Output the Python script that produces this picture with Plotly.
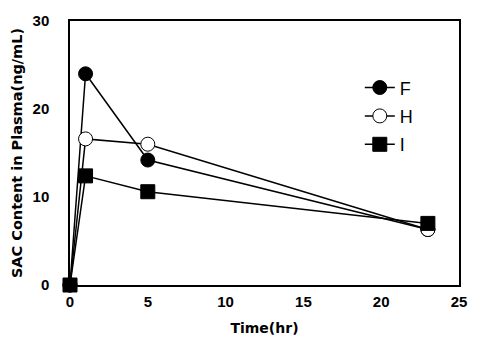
import plotly.graph_objects as go

time_hr = [0, 1, 5, 23]
series_names = ["F", "H", "I"]
f_values = [0, 24.0, 14.2, 6.3]
h_values = [0, 16.6, 16.0, 6.3]
i_values = [0, 12.4, 10.6, 7.0]
x_ticks = [0, 5, 10, 15, 20, 25]
y_ticks = [0, 10, 20, 30]

fig = go.Figure()
styles = [
    dict(symbol="circle", color="black", line=dict(color="black", width=1)),
    dict(symbol="circle", color="white", line=dict(color="black", width=1)),
    dict(symbol="square", color="black", line=dict(color="black", width=1)),
]
for name, vals, st in zip(series_names, [f_values, h_values, i_values], styles):
    fig.add_trace(go.Scatter(
        x=time_hr, y=vals, name=name, mode="lines+markers", legendgroup=name,
        line=dict(color="black", width=1.5), cliponaxis=False,
        marker=dict(size=14, **st),
    ))

tfont = dict(family="Liberation Sans", size=15, color="black", weight="bold")
axis_common = dict(
    showgrid=False, zeroline=False, showline=True, linecolor="black",
    linewidth=1.5, mirror=True, ticks="", automargin=False,
    tickfont=tfont,
)
fig.update_xaxes(range=[0, 25], tickvals=x_ticks, ticklabelstandoff=2,
                 title=dict(text="Time(hr)", font=dict(family="DejaVu Sans", size=14, color="black", weight="bold"), standoff=14),
                 **axis_common)
fig.update_yaxes(range=[0, 30], tickvals=y_ticks, ticklabelstandoff=16,
                 title=dict(text="SAC Content in Plasma(ng/mL)", font=dict(family="DejaVu Sans", size=14.5, color="black", weight="bold"), standoff=6),
                 **axis_common)

fig.update_layout(
    width=474, height=344,
    margin=dict(l=62, r=23, t=13, b=67),
    plot_bgcolor="white", paper_bgcolor="white",
    showlegend=True,
    legend=dict(x=0.745, y=0.817, xanchor="left", yanchor="top",
                bgcolor="rgba(0,0,0,0)", font=dict(family="Liberation Sans", size=18, color="black"),
                itemwidth=30, tracegroupgap=2),
)
fig.write_html("out.html")
